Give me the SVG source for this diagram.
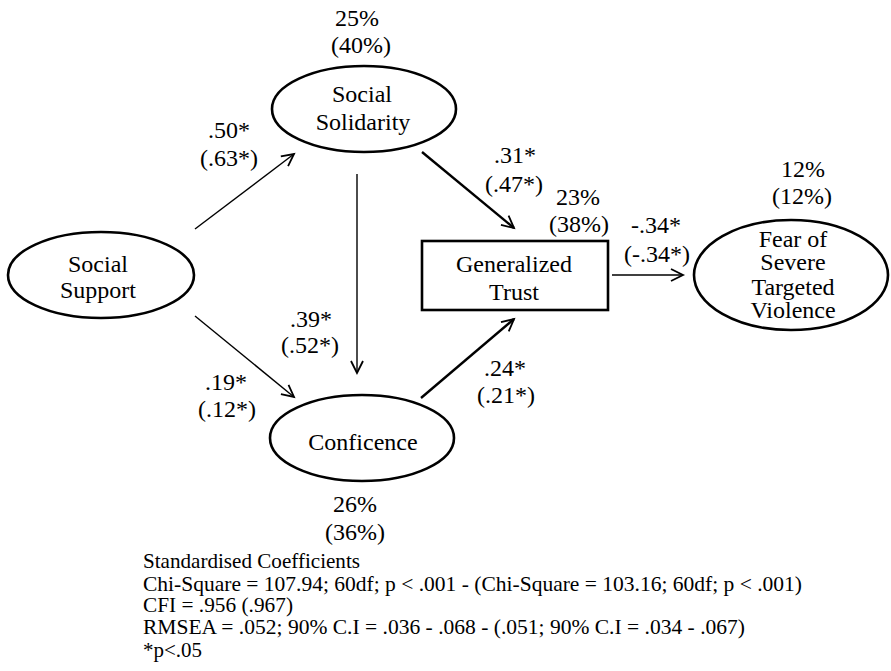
<svg xmlns="http://www.w3.org/2000/svg" width="891" height="671" viewBox="0 0 891 671" font-family="'Liberation Serif', serif">
<style>
.t{font-family:"Liberation Serif",serif;font-size:24px;text-anchor:middle;fill:#000}
.s{font-family:"Liberation Serif",serif;font-size:21px;fill:#000}
.n{fill:#fff;stroke:#000;stroke-width:2.6}
.c{stroke:#000;fill:none}
.thin{stroke-width:1.4}
.thick{stroke-width:2.4}
</style>
<defs>
<marker id="ah" markerUnits="userSpaceOnUse" markerWidth="16" markerHeight="16" refX="13" refY="7" orient="auto">
<path d="M1,1 L13,7 L1,13" fill="none" stroke="#000" stroke-width="1.8"/>
</marker>
</defs>
<rect width="891" height="671" fill="#fff"/>
<g id="connectors">
<line class="c thin" x1="195" y1="229" x2="294" y2="154" marker-end="url(#ah)"/>
<line class="c thin" x1="195" y1="316" x2="294" y2="397" marker-end="url(#ah)"/>
<line class="c thin" x1="357" y1="174" x2="357" y2="373" marker-end="url(#ah)"/>
<line class="c thick" x1="422" y1="152" x2="514" y2="228" marker-end="url(#ah)"/>
<line class="c thick" x1="421" y1="398" x2="514" y2="319" marker-end="url(#ah)"/>
<line class="c thin" x1="612" y1="275" x2="683" y2="275" marker-end="url(#ah)"/>
</g>
<g id="social-solidarity">
<ellipse class="n" cx="364" cy="109" rx="92" ry="43"/>
<text class="t" x="362" y="102">Social</text>
<text class="t" x="363" y="130">Solidarity</text>
</g>
<g id="social-support">
<ellipse class="n" cx="101" cy="275" rx="93" ry="43"/>
<text class="t" x="98" y="272">Social</text>
<text class="t" x="98" y="298">Support</text>
</g>
<g id="conficence">
<ellipse class="n" cx="362" cy="438" rx="92" ry="43"/>
<text class="t" x="363" y="450">Conficence</text>
</g>
<g id="generalized-trust">
<rect class="n" x="422" y="241" width="186" height="69"/>
<text class="t" x="514" y="272">Generalized</text>
<text class="t" x="514" y="300">Trust</text>
</g>
<g id="fear">
<ellipse class="n" cx="791" cy="275" rx="97" ry="55"/>
<text class="t" x="793" y="247">Fear of</text>
<text class="t" x="793" y="270">Severe</text>
<text class="t" x="793" y="295">Targeted</text>
<text class="t" x="793" y="318">Violence</text>
</g>
<g id="labels">
<text class="t" x="357" y="26">25%</text>
<text class="t" x="361" y="53">(40%)</text>
<text class="t" x="229" y="138">.50*</text>
<text class="t" x="229" y="166">(.63*)</text>
<text class="t" x="515" y="163">.31*</text>
<text class="t" x="514" y="192">(.47*)</text>
<text class="t" x="578" y="205">23%</text>
<text class="t" x="579" y="232">(38%)</text>
<text class="t" x="656" y="233">-.34*</text>
<text class="t" x="657" y="262">(-.34*)</text>
<text class="t" x="803" y="177">12%</text>
<text class="t" x="802" y="204">(12%)</text>
<text class="t" x="311" y="327">.39*</text>
<text class="t" x="310" y="353">(.52*)</text>
<text class="t" x="226" y="390">.19*</text>
<text class="t" x="227" y="417">(.12*)</text>
<text class="t" x="505" y="376">.24*</text>
<text class="t" x="506" y="403">(.21*)</text>
<text class="t" x="355" y="512">26%</text>
<text class="t" x="355" y="540">(36%)</text>
</g>
<g id="notes">
<text class="s" x="143" y="568" textLength="217" lengthAdjust="spacingAndGlyphs">Standardised Coefficients</text>
<text class="s" x="143" y="591" textLength="659" lengthAdjust="spacingAndGlyphs">Chi-Square = 107.94; 60df; p &lt; .001 - (Chi-Square = 103.16; 60df; p &lt; .001)</text>
<text class="s" x="143" y="612" textLength="150" lengthAdjust="spacingAndGlyphs">CFI = .956 (.967)</text>
<text class="s" x="143" y="634" textLength="602" lengthAdjust="spacingAndGlyphs">RMSEA = .052; 90% C.I = .036 - .068 - (.051; 90% C.I = .034 - .067)</text>
<text class="s" x="143" y="657" textLength="59" lengthAdjust="spacingAndGlyphs">*p&lt;.05</text>
</g>
</svg>
